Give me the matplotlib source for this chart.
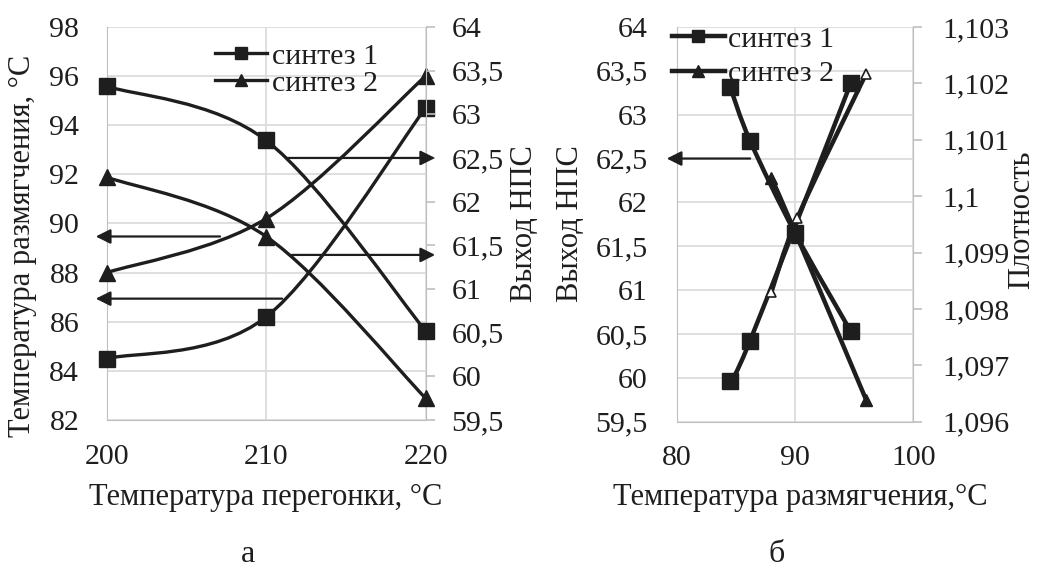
import matplotlib
matplotlib.use("Agg")
import matplotlib.pyplot as plt
from matplotlib.path import Path
from matplotlib.patches import PathPatch
from matplotlib.lines import Line2D

# --- данные ---
t_distill = [200, 210, 220]
soft_s1 = [84.5, 86.2, 94.7]      # температура размягчения, синтез 1
soft_s2 = [88.0, 90.2, 96.0]      # синтез 2
yield_s1 = [63.32, 62.70, 60.52]  # выход НПС, синтез 1
yield_s2 = [62.28, 61.60, 59.75]  # синтез 2

# панель б
b_yield_s1_x = [84.5, 86.2, 90.0, 94.7]
b_yield_s1 = [63.32, 62.70, 61.65, 60.53]
b_yield_s2_x = [88.0, 90.2, 96.0]
b_yield_s2 = [62.28, 61.60, 59.75]
b_dens_s1_x = [84.5, 86.2, 94.7]
b_dens_s1 = [1.09673, 1.09744, 1.10200]
b_dens_s2_x = [88.0, 90.2, 96.0]
b_dens_s2 = [1.09830, 1.09962, 1.10217]

# тики
a_left_ticks = [82, 84, 86, 88, 90, 92, 94, 96, 98]
a_right_ticks = [59.5, 60, 60.5, 61, 61.5, 62, 62.5, 63, 63.5, 64]
b_x_ticks = [80, 90, 100]
b_dens_ticks = [1.096, 1.097, 1.098, 1.099, 1.1, 1.101, 1.102, 1.103]

# стрелки: (хвост x, острие x, y)
a_arrows_left = [(207.1, 199.3, 89.47), (211.0, 199.3, 86.94)]
a_arrows_right = [(211.3, 220.6, 62.5), (211.6, 220.6, 61.39)]
b_arrows_left = [(86.2, 79.15, 62.5)]

INK = '#1e1e1e'
GRID = '#d9d9d9'
SPINE = '#bfbfbf'
FS = 21.5
LFS = 22

plt.rcParams['font.family'] = 'serif'
plt.rcParams['font.serif'] = ['Liberation Serif', 'Times New Roman', 'DejaVu Serif']
plt.rcParams['font.size'] = FS
plt.rcParams['text.color'] = INK


def fmt(v):
    s = ('%g' % v).replace('.', ',')
    return s


def smooth(ax, x, y, lw):
    # кривая Безье через точки (сглаженная линия как в Excel)
    n = len(x)
    verts = [(x[0], y[0])]
    codes = [Path.MOVETO]
    for i in range(n - 1):
        a = i - 1 if i > 0 else i
        d = i + 2 if i + 2 < n else i + 1
        c1 = (x[i] + (x[i + 1] - x[a]) / 6, y[i] + (y[i + 1] - y[a]) / 6)
        c2 = (x[i + 1] - (x[d] - x[i]) / 6, y[i + 1] - (y[d] - y[i]) / 6)
        verts += [c1, c2, (x[i + 1], y[i + 1])]
        codes += [Path.CURVE4] * 3
    ax.add_patch(PathPatch(Path(verts, codes), fill=False, lw=lw, ec=INK,
                           capstyle='round', joinstyle='round', zorder=3))


def style(ax, twin, lpad, rpad):
    for s in ax.spines.values():
        s.set_visible(False)
    for s in twin.spines.values():
        s.set_visible(False)
    ax.spines['left'].set_visible(True)
    ax.spines['left'].set_color(SPINE)
    ax.spines['bottom'].set_visible(True)
    ax.spines['bottom'].set_color(SPINE)
    twin.spines['right'].set_visible(True)
    twin.spines['right'].set_color(SPINE)
    ax.grid(True, color=GRID, lw=1.2)
    ax.set_axisbelow(True)
    ax.tick_params(axis='x', length=0, pad=17, colors=INK, labelsize=FS)
    ax.tick_params(axis='y', length=0, pad=lpad, colors=INK, labelsize=FS)
    twin.tick_params(axis='y', length=6.5, width=1.2, color=SPINE, pad=rpad,
                     labelcolor=INK, labelsize=FS)


def arrows(ax, lst):
    for x0, x1, y in lst:
        ax.annotate('', xy=(x1, y), xytext=(x0, y), annotation_clip=False,
                    arrowprops=dict(arrowstyle='-|>', lw=1.6, color=INK,
                                    mutation_scale=22, shrinkA=0, shrinkB=0))


fig = plt.figure(figsize=(10.38, 5.73), dpi=100)

# ---------- панель а ----------
ax = fig.add_axes([0.103, 0.267, 0.307, 0.686])
tw = ax.twinx()
style(ax, tw, 20, 12)
ax.set_xlim(200, 220)
ax.set_xticks(t_distill)
ax.set_ylim(82, 98)
ax.set_yticks(a_left_ticks)
tw.set_ylim(59.5, 64)
tw.set_yticks(a_right_ticks)
tw.set_yticklabels([fmt(v) for v in a_right_ticks])

smooth(ax, t_distill, soft_s1, 2.4)
smooth(ax, t_distill, soft_s2, 2.4)
smooth(tw, t_distill, yield_s1, 2.4)
smooth(tw, t_distill, yield_s2, 2.4)
ax.plot(t_distill, soft_s1, ls='none', marker='s', ms=12, color=INK, clip_on=False, zorder=4)
ax.plot(t_distill, soft_s2, ls='none', marker='^', ms=12, color=INK, clip_on=False, zorder=4)
tw.plot(t_distill, yield_s1, ls='none', marker='s', ms=12, color=INK, clip_on=False, zorder=4)
tw.plot(t_distill, yield_s2, ls='none', marker='^', ms=12, color=INK, clip_on=False, zorder=4)
arrows(ax, a_arrows_left)
arrows(tw, a_arrows_right)

h1 = Line2D([], [], color=INK, lw=2.4, marker='s', ms=9)
h2 = Line2D([], [], color=INK, lw=2.4, marker='^', ms=9)
tw.legend([h1, h2], ['синтез 1', 'синтез 2'], loc='upper left',
          bbox_to_anchor=(0.207, 0.925), bbox_transform=fig.transFigure,
          frameon=False, handlelength=1.75, handletextpad=0.15,
          labelspacing=0.0, borderpad=0.0, borderaxespad=0.0, fontsize=FS)

# ---------- панель б ----------
bx = fig.add_axes([0.652, 0.264, 0.228, 0.689])
bt = bx.twinx()
style(bx, bt, 21, 14)
bx.set_xlim(80, 100)
bx.set_xticks(b_x_ticks)
bx.set_ylim(59.5, 64)
bx.set_yticks(a_right_ticks)
bx.set_yticklabels([fmt(v) for v in a_right_ticks])
bt.set_ylim(1.096, 1.103)
bt.set_yticks(b_dens_ticks)
bt.set_yticklabels([fmt(v) for v in b_dens_ticks])

smooth(bx, b_yield_s1_x, b_yield_s1, 3.2)
smooth(bx, b_yield_s2_x, b_yield_s2, 3.2)
smooth(bt, b_dens_s1_x, b_dens_s1, 3.2)
smooth(bt, b_dens_s2_x, b_dens_s2, 3.2)
bx.plot(b_yield_s1_x, b_yield_s1, ls='none', marker='s', ms=12, color=INK, zorder=4)
bx.plot(b_yield_s2_x, b_yield_s2, ls='none', marker='^', ms=9, color=INK, zorder=4)
bt.plot(b_dens_s1_x, b_dens_s1, ls='none', marker='s', ms=12, color=INK, zorder=4)
bt.plot(b_dens_s2_x, b_dens_s2, ls='none', marker='^', ms=7, mfc='white',
        mec=INK, mew=1.2, zorder=5)
arrows(bx, b_arrows_left)

g1 = Line2D([], [], color=INK, lw=3.2, marker='s', ms=9)
g2 = Line2D([], [], color=INK, lw=3.2, marker='^', ms=9)
bt.legend([g1, g2], ['синтез 1', 'синтез 2'], loc='upper left',
          bbox_to_anchor=(0.647, 0.955), bbox_transform=fig.transFigure,
          frameon=False, handlelength=1.8, handletextpad=0.1,
          labelspacing=0.25, borderpad=0.0, borderaxespad=0.0, fontsize=FS)

# ---------- подписи ----------
fig.text(23 / 1038, 1 - 246 / 573, 'Температура размягчения, °С', rotation=90,
         ha='center', va='center', fontsize=LFS)
fig.text(525 / 1038, 1 - 224 / 573, 'Выход НПС', rotation=90,
         ha='center', va='center', fontsize=LFS)
fig.text(571 / 1038, 1 - 224 / 573, 'Выход НПС', rotation=90,
         ha='center', va='center', fontsize=LFS)
fig.text(1022 / 1038, 1 - 220 / 573, 'Плотность', rotation=90,
         ha='center', va='center', fontsize=LFS)
fig.text(266 / 1038, 1 - 497 / 573, 'Температура перегонки, °С',
         ha='center', va='center', fontsize=LFS)
fig.text(800 / 1038, 1 - 497 / 573, 'Температура размягчения,°С',
         ha='center', va='center', fontsize=LFS)
fig.text(248 / 1038, 1 - 555 / 573, 'а', ha='center', va='center', fontsize=LFS + 1)
fig.text(777 / 1038, 1 - 555 / 573, 'б', ha='center', va='center', fontsize=LFS + 1)

fig.savefig('out.png', dpi=100, facecolor='white')
